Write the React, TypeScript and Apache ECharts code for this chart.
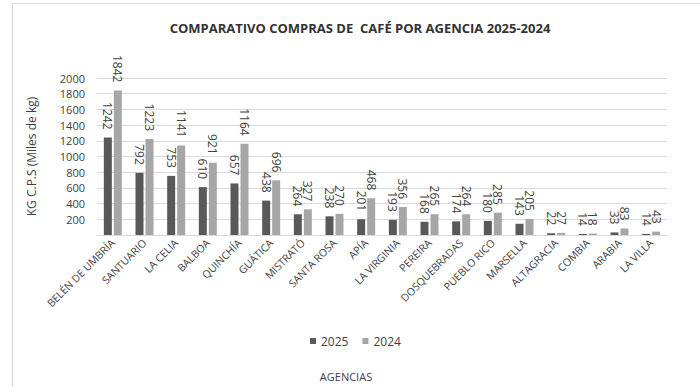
import React, { useEffect, useRef } from "react";
import * as echarts from "echarts";

const agencias = [
  "BELÉN DE UMBRÍA",
  "SANTUARIO",
  "LA CELIA",
  "BALBOA",
  "QUINCHÍA",
  "GUÁTICA",
  "MISTRATÓ",
  "SANTA ROSA",
  "APÍA",
  "LA VIRGINIA",
  "PEREIRA",
  "DOSQUEBRADAS",
  "PUEBLO RICO",
  "MARSELLA",
  "ALTAGRACIA",
  "COMBIA",
  "ARABIA",
  "LA VILLA",
];

const compras2025 = [1242, 792, 753, 610, 657, 438, 264, 238, 201, 193, 168, 174, 180, 143, 22, 14, 33, 14];
const compras2024 = [1842, 1223, 1141, 921, 1164, 696, 327, 270, 468, 356, 265, 264, 285, 205, 27, 18, 83, 43];

const FONT = "'Open Sans', sans-serif";

export default function App() {
  const ref = useRef<HTMLDivElement>(null);

  useEffect(() => {
    document.body.style.margin = "0";
    if (!ref.current) return;
    const chart = echarts.init(ref.current, null, { renderer: "svg" });

    const valueLabel = {
      show: true,
      position: "top" as const,
      rotate: -90,
      align: "right" as const,
      verticalAlign: "middle" as const,
      distance: 8,
      fontFamily: FONT,
      fontSize: 12,
      color: "#404040",
    };

    chart.setOption({
      animation: false,
      backgroundColor: "#ffffff",
      graphic: [
        {
          type: "rect",
          shape: { x: 12.5, y: 3.5, width: 720, height: 420 },
          style: { fill: "none", stroke: "#d9d9d9", lineWidth: 1 },
          silent: true,
        },
      ],
      title: [
        {
          text: "COMPARATIVO COMPRAS DE  CAFÉ POR AGENCIA 2025-2024",
          left: 355,
          top: 16,
          textAlign: "center",
          textStyle: { fontFamily: FONT, fontSize: 13, fontWeight: "bold", color: "#333333" },
        },
        {
          text: "AGENCIAS",
          left: 341,
          top: 366,
          textAlign: "center",
          textStyle: { fontFamily: FONT, fontSize: 11, fontWeight: "normal", color: "#404040" },
        },
      ],
      legend: {
        data: ["2025", "2024"],
        left: 305,
        top: 330,
        itemWidth: 6,
        itemHeight: 6,
        itemGap: 14,
        icon: "rect",
        textStyle: { fontFamily: FONT, fontSize: 12, color: "#404040" },
      },
      grid: { left: 97, right: 33, top: 78, bottom: 152 },
      xAxis: {
        type: "category",
        data: agencias,
        axisLine: { lineStyle: { color: "#d9d9d9" } },
        axisTick: { show: false },
        axisLabel: {
          interval: 0,
          rotate: 45,
          margin: 6,
          fontFamily: FONT,
          fontSize: 10.5,
          color: "#404040",
        },
      },
      yAxis: {
        type: "value",
        min: 0,
        max: 2000,
        interval: 200,
        name: "KG C.P.S (Miles de kg)",
        nameLocation: "middle",
        nameGap: 60,
        nameRotate: 90,
        nameTextStyle: { fontFamily: FONT, fontSize: 12, color: "#404040" },
        axisLine: { show: false },
        axisTick: { show: false },
        splitLine: { lineStyle: { color: "#d9d9d9" } },
        axisLabel: {
          showMinLabel: false,
          margin: 12,
          formatter: (v: number) => String(v),
          fontFamily: FONT,
          fontSize: 11,
          color: "#404040",
        },
      },
      series: [
        {
          name: "2025",
          type: "bar",
          data: compras2025,
          barWidth: 8,
          barGap: "25%",
          itemStyle: { color: "#595959" },
          label: valueLabel,
        },
        {
          name: "2024",
          type: "bar",
          data: compras2024,
          barWidth: 8,
          itemStyle: { color: "#a6a6a6" },
          label: valueLabel,
        },
      ],
    });

    return () => chart.dispose();
  }, []);

  return <div ref={ref} style={{ width: 700, height: 387 }} />;
}
